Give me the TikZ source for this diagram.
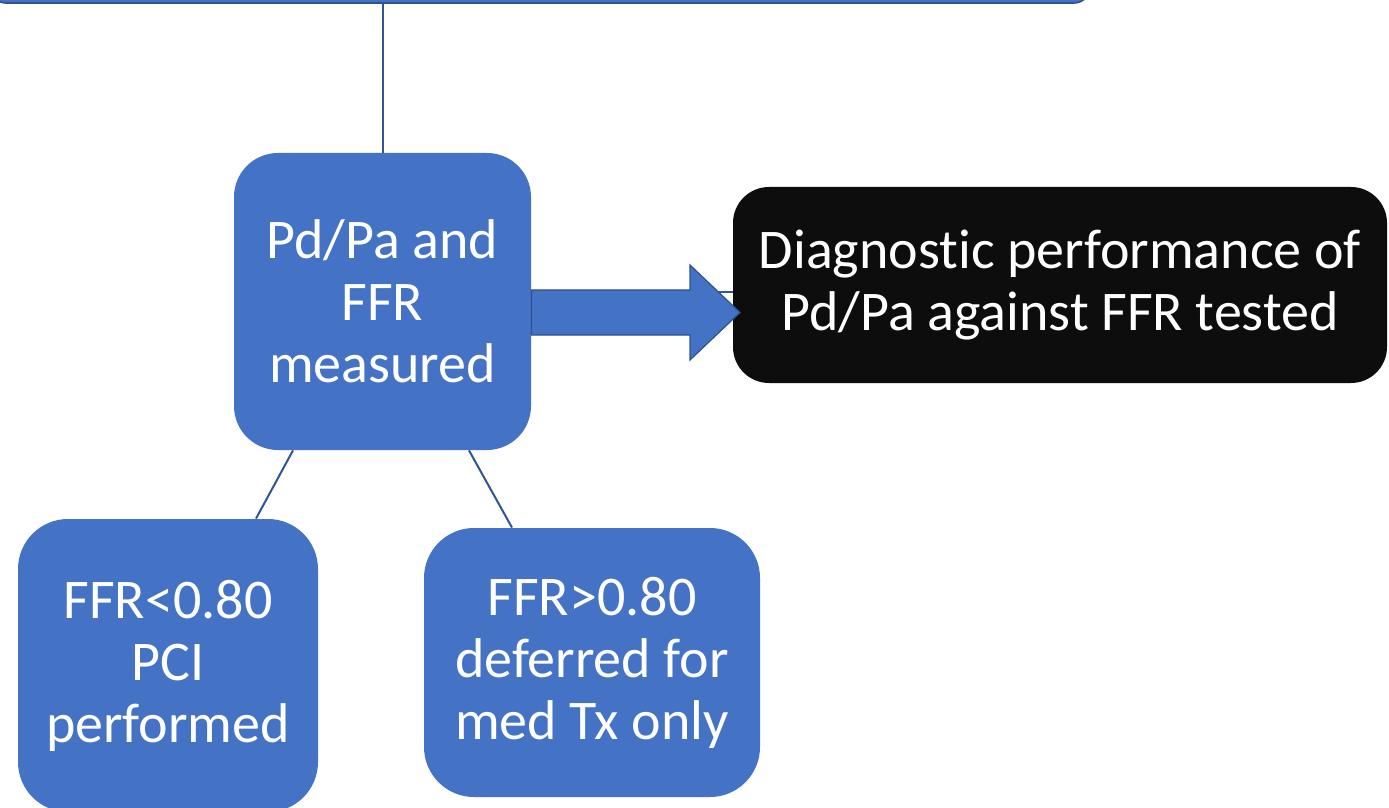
\documentclass[tikz,border=0pt]{standalone}
\usepackage{fontspec}
\setmainfont{Carlito}[Ligatures=NoCommon]
\definecolor{accent}{HTML}{4472C4}
\definecolor{accentdark}{HTML}{2F528F}
\definecolor{linkblue}{HTML}{2F5597}
\definecolor{nearblack}{HTML}{0D0D0D}
\tikzset{
  box/.style={fill=accent, text=white, align=center, inner sep=0pt,
              font=\fontsize{28}{31}\selectfont},
  darkbox/.style={box, fill=nearblack},
  link/.style={draw=linkblue, line width=1pt},
  blockarrow/.style={fill=accent, draw=accentdark, line width=0.6pt, line join=miter}
}
\begin{document}
\begin{tikzpicture}[x=0.5pt, y=-0.5pt]
  \useasboundingbox[fill=white] (0,0) rectangle (1389,808);

  % box above, only its lower edge lies inside the page
  \node[fill=accent, draw=accentdark, line width=0.8pt, rounded corners=8pt,
        minimum width=550pt, minimum height=51.5pt] (top) at (540,-48.5) {};

  % decision boxes
  \node[box, rounded corners=22pt, minimum width=148.5pt, minimum height=148.5pt]
    (pd) at (382.5,301.5) {Pd/Pa and\\FFR\\measured};
  \node[darkbox, rounded corners=18pt, minimum width=327pt, minimum height=98pt]
    (diag) at (1060,285) {Diagnostic performance of\\Pd/Pa against FFR tested};
  \node[box, rounded corners=25pt, minimum width=150pt, minimum height=146.5pt]
    (pci) at (168,665.5) {FFR<0.80\\PCI\\performed};
  \node[box, rounded corners=25pt, minimum width=168pt, minimum height=134.5pt]
    (defer) at (592,662.5) {FFR>0.80\\deferred for\\med Tx only};

  % connectors
  \draw[link] (pd.north |- top.south) -- (pd.north);
  \draw[link] (pd.east |- 0,292) -- (diag.west |- 0,292);
  \draw[link] ([xshift=-44.75pt]pd.south) -- ([xshift=44pt]pci.north);
  \draw[link] ([xshift=43.25pt]pd.south) -- ([xshift=-40pt]defer.north);

  % block arrow towards the analysis box
  \draw[blockarrow] (pd.east |- 0,290) -- (690,290) -- (690,265) -- (740,312.5)
    -- (690,360) -- (690,335) -- (pd.east |- 0,335) -- cycle;
\end{tikzpicture}
\end{document}
